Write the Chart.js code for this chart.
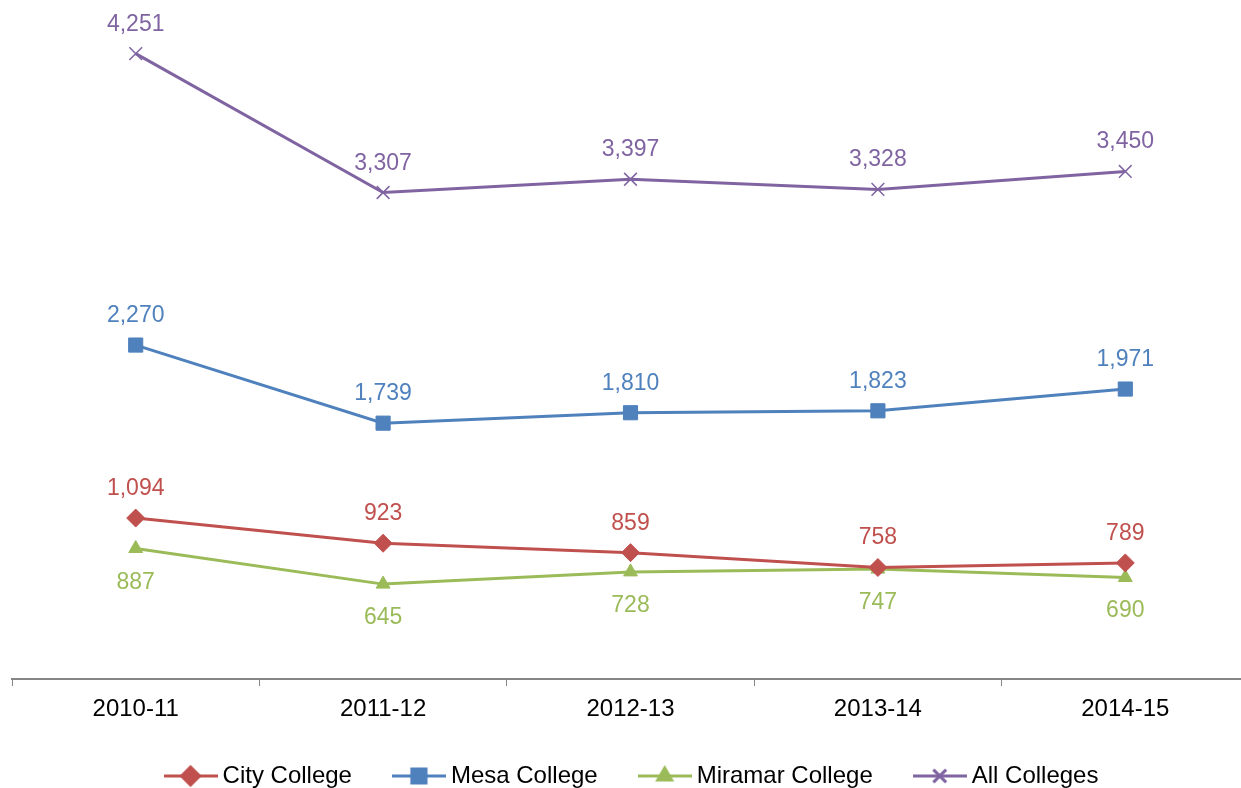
<!DOCTYPE html>
<html>
<head>
<meta charset="utf-8">
<script src="https://cdn.jsdelivr.net/npm/chart.js@4/dist/chart.umd.min.js"></script>
<style>
  html, body { margin: 0; padding: 0; background: #fff; overflow: hidden; }
  #wrap { position: relative; width: 1241px; height: 788px; overflow: hidden; }
  #chart { position: absolute; left: 0; top: 0; }
</style>
</head>
<body>
<div id="wrap"><canvas id="chart" width="1260" height="798"></canvas></div>
<script>
  "use strict";

  var years = ['2010-11', '2011-12', '2012-13', '2013-14', '2014-15'];
  var cityCollege = [1094, 923, 859, 758, 789];
  var mesaCollege = [2270, 1739, 1810, 1823, 1971];
  var miramarCollege = [887, 645, 728, 747, 690];
  var allColleges = [4251, 3307, 3397, 3328, 3450];

  var FONT = 'Arial, "Liberation Sans", sans-serif';

  // 凡例用: 線 + マーカーの小さな画像
  function legendIcon(color, style, r) {
    var c = document.createElement('canvas');
    c.width = 54;
    c.height = 22;
    var x = c.getContext('2d');
    x.strokeStyle = color;
    x.fillStyle = color;
    x.lineWidth = 3;
    x.beginPath();
    x.moveTo(0, 11);
    x.lineTo(54, 11);
    x.stroke();
    Chart.helpers.drawPoint(x, { pointStyle: style, radius: r, borderWidth: style === 'crossRot' ? 1.5 : 1, rotation: 0 }, 27, 11);
    return c;
  }

  // データラベル（上 / 下）
  var valueLabels = {
    id: 'valueLabels',
    afterDatasetsDraw: function(chart) {
      var ctx = chart.ctx;
      ctx.save();
      ctx.font = '23px ' + FONT;
      ctx.textAlign = 'center';
      ctx.textBaseline = 'alphabetic';
      chart.data.datasets.forEach(function(ds, i) {
        var meta = chart.getDatasetMeta(i);
        ctx.fillStyle = ds.borderColor;
        meta.data.forEach(function(pt, j) {
          var txt = ds.data[j].toLocaleString('en-US');
          var y = ds.labelBelow ? pt.y + 40 : pt.y - 23;
          ctx.fillText(txt, pt.x, y);
        });
      });
      ctx.restore();
    }
  };

  function series(label, data, color, style, r, below) {
    return {
      label: label,
      data: data,
      borderColor: color,
      backgroundColor: color,
      pointBackgroundColor: color,
      pointBorderColor: color,
      borderWidth: 3,
      pointStyle: style,
      pointRadius: r,
      pointBorderWidth: style === 'crossRot' ? 1.5 : 1,
      tension: 0,
      fill: false,
      labelBelow: below,
      legendIcon: legendIcon(color, style, r)
    };
  }

  new Chart(document.getElementById('chart'), {
    type: 'line',
    data: {
      labels: years,
      datasets: [
        series('City College', cityCollege, '#C0504D', 'rectRot', 9, false),
        series('Mesa College', mesaCollege, '#4F81BD', 'rect', 10, false),
        series('Miramar College', miramarCollege, '#9BBB59', 'triangle', 8, true),
        series('All Colleges', allColleges, '#8064A2', 'crossRot', 9, false)
      ]
    },
    options: {
      responsive: false,
      animation: false,
      devicePixelRatio: 1,
      layout: { padding: { left: 12, right: 3, top: 17, bottom: 0 } },
      plugins: {
        tooltip: { enabled: false },
        legend: {
          position: 'bottom',
          labels: {
            usePointStyle: true,
            pointStyleWidth: 40,
            padding: 47,
            color: '#000',
            font: { family: FONT, size: 24 },
            generateLabels: function(chart) {
              return chart.data.datasets.map(function(ds, i) {
                return {
                  text: ds.label,
                  pointStyle: ds.legendIcon,
                  fillStyle: ds.borderColor,
                  strokeStyle: ds.borderColor,
                  lineWidth: 0,
                  fontColor: '#000',
                  datasetIndex: i,
                  hidden: false
                };
              });
            }
          }
        }
      },
      scales: {
        x: {
          offset: true,
          afterFit: function(scale) { scale.height = 38; },
          grid: {
            offset: true,
            drawOnChartArea: false,
            drawTicks: true,
            tickLength: 7,
            color: '#868686',
            lineWidth: 1
          },
          border: { display: true, color: '#868686', width: 2 },
          ticks: {
            color: '#000',
            padding: 9,
            maxRotation: 0,
            font: { family: FONT, size: 24 }
          }
        },
        y: {
          display: false,
          min: 0,
          max: 4500
        }
      }
    },
    plugins: [valueLabels]
  });
</script>
</body>
</html>
